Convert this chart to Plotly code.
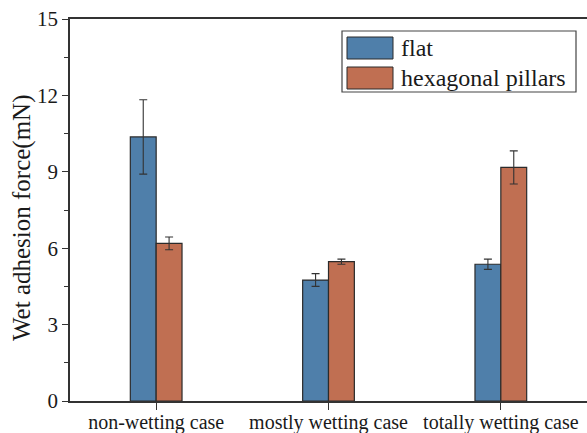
import plotly.graph_objects as go

# Wet adhesion force by wetting condition
categories = ["non-wetting case", "mostly wetting case", "totally wetting case"]
flat_vals = [10.37, 4.75, 5.37]
flat_err = [1.46, 0.25, 0.2]
hex_vals = [6.19, 5.47, 9.17]
hex_err = [0.25, 0.1, 0.65]
series_names = ["flat", "hexagonal pillars"]
y_ticks = [0, 3, 6, 9, 12, 15]
y_title = "Wet adhesion force(mN)"

BLUE = "#4f7faa"
ORANGE = "#c06f52"
EDGE = "#2b2b2b"
FONT = "Times New Roman, Liberation Serif, serif"

fig = go.Figure()
for name, vals, errs, col in [
    (series_names[0], flat_vals, flat_err, BLUE),
    (series_names[1], hex_vals, hex_err, ORANGE),
]:
    fig.add_trace(go.Bar(
        x=categories, y=vals, name=name,
        marker=dict(color=col, line=dict(color=EDGE, width=1.2)),
        error_y=dict(type="data", array=errs, visible=True,
                     color="#333333", thickness=1.1, width=4),
        showlegend=False,
    ))

fig.update_layout(
    width=587, height=433,
    margin=dict(l=70, r=0, t=19, b=32),
    paper_bgcolor="white", plot_bgcolor="white",
    barmode="group", bargap=0.7, bargroupgap=0,
    font=dict(family=FONT, color="#1a1a1a", size=20),
)
fig.update_xaxes(
    range=[-0.5, 2.5], showline=True, linecolor="#333333", linewidth=1.5,
    mirror=True, ticks="outside", ticklen=7, tickwidth=1.2, tickcolor="#333333",
    ticklabelstandoff=-5,
    tickfont=dict(size=20, family=FONT), showgrid=False, automargin=False,
)
fig.update_yaxes(
    range=[0, 15], tickvals=y_ticks, showline=True, linecolor="#333333",
    linewidth=1.5, ticks="outside", ticklen=6, tickwidth=1.2, tickcolor="#333333",
    minor=dict(dtick=1.5, ticks="outside", ticklen=4, tickcolor="#333333",
               tickwidth=1, showgrid=False),
    tickfont=dict(size=21, family=FONT), showgrid=False, zeroline=False,
    automargin=False,
)

# Vertical axis title
fig.add_annotation(xref="paper", yref="paper", x=(22 - 70) / 517,
                   y=(401 - 218) / 382, text=y_title, textangle=-90,
                   showarrow=False, xanchor="center", yanchor="middle",
                   font=dict(size=25, family=FONT, color="#1a1a1a"))

# Legend drawn as a framed box with colour swatches
fig.add_shape(type="rect", xref="paper", yref="paper",
              x0=(342 - 70) / 517, x1=(576 - 70) / 517,
              y0=(401 - 92) / 382, y1=(401 - 31) / 382,
              line=dict(color="#444444", width=1.2), fillcolor="white")
for i, (name, col) in enumerate(zip(series_names, [BLUE, ORANGE])):
    top = 37 + i * 30
    fig.add_shape(type="rect", xref="paper", yref="paper",
                  x0=(347 - 70) / 517, x1=(393 - 70) / 517,
                  y0=(401 - (top + 22)) / 382, y1=(401 - top) / 382,
                  line=dict(color=EDGE, width=1), fillcolor=col)
    fig.add_annotation(xref="paper", yref="paper",
                       x=(399 - 70) / 517, y=(401 - (top + 11)) / 382,
                       text=name, showarrow=False, xanchor="left", yanchor="middle",
                       font=dict(size=24, family=FONT, color="#1a1a1a"))

fig.write_html("out.html")
